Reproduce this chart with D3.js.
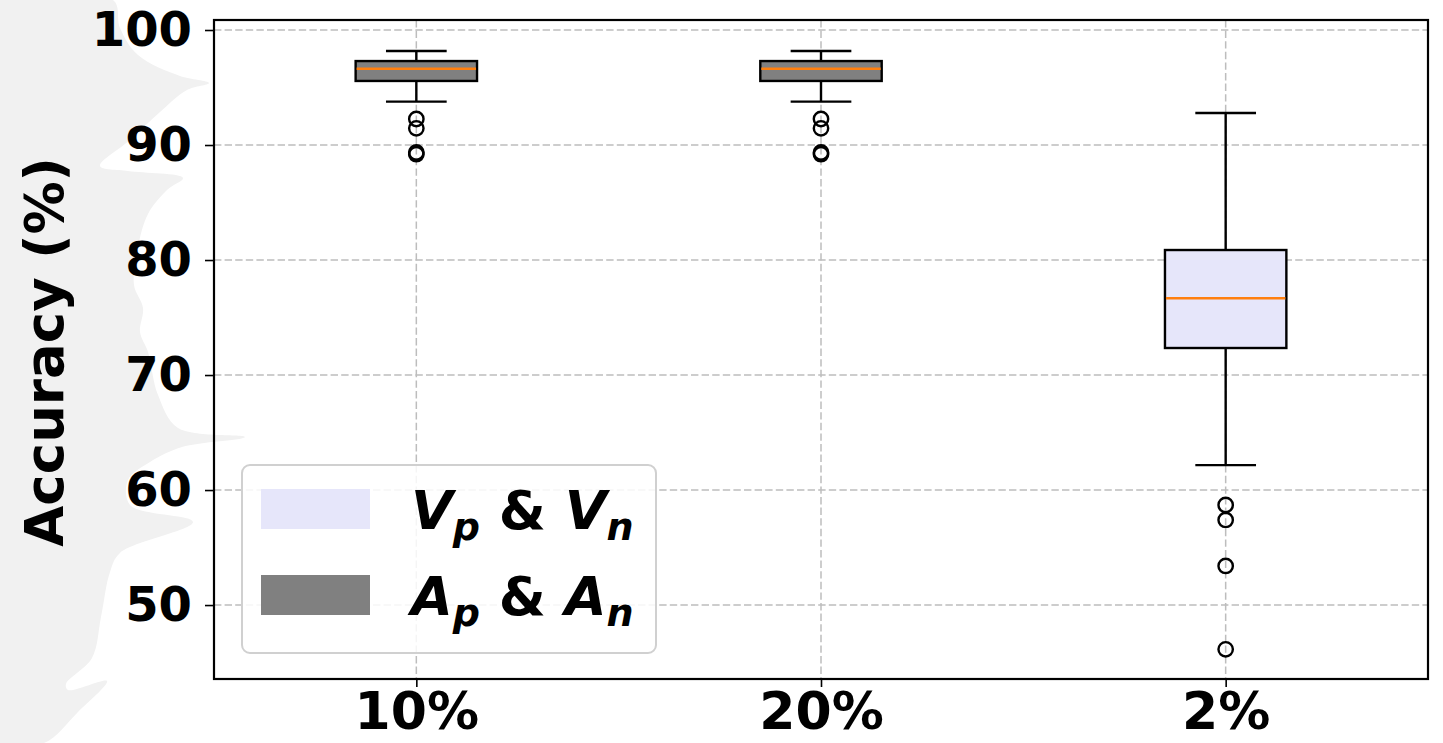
<!DOCTYPE html>
<html>
<head>
<meta charset="utf-8">
<script src="https://cdn.jsdelivr.net/npm/d3@7"></script>
<style>
  html, body { margin: 0; padding: 0; background: #ffffff; }
  svg { display: block; }
  text { font-family: "DejaVu Sans", sans-serif; }
</style>
</head>
<body>
<svg id="chart" width="1443" height="743"></svg>
<script>
// Accuracy distributions per sampling ratio
const categories = ["10%", "20%", "2%"];
const whiskerLow  = [93.77, 93.77, 62.17];
const q1          = [95.57, 95.57, 72.35];
const medians     = [96.63, 96.63, 76.67];
const q3          = [97.30, 97.30, 80.87];
const whiskerHigh = [98.17, 98.17, 92.78];
const outliers = [
  [92.26, 91.45, 89.35, 89.2],
  [92.26, 91.45, 89.35, 89.2],
  [58.7, 57.4, 53.4, 46.15]
];
// which legend group each box belongs to
const boxGroup = ["A", "A", "V"];
const yTicks = [50, 60, 70, 80, 90, 100];
const legendGroups = ["V", "A"];
const legendLetters = { V: "V", A: "A" };

const plot = { left: 214, right: 1428, top: 20, bottom: 679 };
const fills = { V: "#e6e6fa", A: "#808080" };
const lw = 2.4;

const svg = d3.select("#chart");

// faint background silhouette on the left side
const silhouette = [
  [0, 0], [113, 0], [120, 28], [138, 55], [180, 76], [209, 83],
  [187, 90], [160, 112], [130, 140], [100, 166], [128, 171], [183, 178],
  [167, 190], [148, 214], [138, 247], [134, 285], [143, 308], [140, 332],
  [148, 352], [158, 395], [178, 428], [245, 437], [182, 447], [150, 462],
  [128, 480], [130, 505], [193, 522], [120, 553], [110, 572], [101, 617],
  [92, 658], [66, 684], [68, 690], [107, 681], [78, 712], [44, 743], [0, 743]
];
svg.append("path")
  .attr("fill", "#f1f1f1")
  .attr("d", d3.line().curve(d3.curveCatmullRomClosed.alpha(0.5))(silhouette));

const y = d3.scaleLinear().domain([43.57, 100.87]).range([plot.bottom, plot.top]);
const x = d3.scalePoint().domain(categories).range([plot.left, plot.right]).padding(0.5);
const boxW = x.step() * 0.3;
const capW = boxW / 2;

const gridColor = "#bdbdbd";
const dash = "7.4,3.2";

// grid
const grid = svg.append("g");
grid.selectAll("line.h").data(yTicks).join("line")
  .attr("x1", plot.left).attr("x2", plot.right)
  .attr("y1", d => y(d)).attr("y2", d => y(d))
  .attr("stroke", gridColor).attr("stroke-width", 1.5).attr("stroke-dasharray", dash);
grid.selectAll("line.v").data(categories).join("line")
  .attr("x1", d => x(d)).attr("x2", d => x(d))
  .attr("y1", plot.top).attr("y2", plot.bottom)
  .attr("stroke", gridColor).attr("stroke-width", 1.5).attr("stroke-dasharray", dash);

// boxes
const boxes = svg.append("g").selectAll("g").data(categories).join("g");
boxes.each(function(cat, i) {
  const g = d3.select(this);
  const cx = x(cat);
  g.append("line").attr("x1", cx).attr("x2", cx)
    .attr("y1", y(whiskerHigh[i])).attr("y2", y(q3[i]))
    .attr("stroke", "#000").attr("stroke-width", lw);
  g.append("line").attr("x1", cx).attr("x2", cx)
    .attr("y1", y(q1[i])).attr("y2", y(whiskerLow[i]))
    .attr("stroke", "#000").attr("stroke-width", lw);
  [whiskerHigh[i], whiskerLow[i]].forEach(v => {
    g.append("line").attr("x1", cx - capW / 2).attr("x2", cx + capW / 2)
      .attr("y1", y(v)).attr("y2", y(v))
      .attr("stroke", "#000").attr("stroke-width", lw);
  });
  g.append("rect")
    .attr("x", cx - boxW / 2).attr("width", boxW)
    .attr("y", y(q3[i])).attr("height", y(q1[i]) - y(q3[i]))
    .attr("fill", fills[boxGroup[i]]).attr("stroke", "#000").attr("stroke-width", lw);
  g.append("line").attr("x1", cx - boxW / 2 + 1).attr("x2", cx + boxW / 2 - 1)
    .attr("y1", y(medians[i])).attr("y2", y(medians[i]))
    .attr("stroke", "#ff7f0e").attr("stroke-width", lw);
  g.selectAll("circle").data(outliers[i]).join("circle")
    .attr("cx", cx).attr("cy", d => y(d)).attr("r", 7.2)
    .attr("fill", "none").attr("stroke", "#000").attr("stroke-width", 2.4);
});

// axes
const yAxis = svg.append("g").attr("transform", `translate(${plot.left},0)`)
  .call(d3.axisLeft(y).tickValues(yTicks).tickSize(9).tickPadding(13).tickFormat(d3.format("d")));
yAxis.select(".domain").remove();
yAxis.selectAll("line").attr("stroke", "#000").attr("stroke-width", 1.6);
yAxis.selectAll("text").attr("font-size", 48).attr("font-weight", "bold")
  .attr("font-family", "DejaVu Sans").attr("fill", "#000");

const xAxis = svg.append("g").attr("transform", `translate(0,${plot.bottom})`)
  .call(d3.axisBottom(x).tickSize(8).tickPadding(5));
xAxis.select(".domain").remove();
xAxis.selectAll("line").attr("stroke", "#000").attr("stroke-width", 1.6);
xAxis.selectAll("text").attr("font-size", 52).attr("font-weight", "bold")
  .attr("font-family", "DejaVu Sans").attr("fill", "#000");

// frame
svg.append("rect")
  .attr("x", plot.left).attr("y", plot.top)
  .attr("width", plot.right - plot.left).attr("height", plot.bottom - plot.top)
  .attr("fill", "none").attr("stroke", "#000").attr("stroke-width", 2.2);

// y label
svg.append("text")
  .attr("transform", "translate(63,352) rotate(-90)")
  .attr("text-anchor", "middle")
  .attr("font-size", 53).attr("font-weight", "bold").attr("fill", "#000")
  .text("Accuracy (%)");

// legend
const lg = svg.append("g");
lg.append("rect")
  .attr("x", 242).attr("y", 465).attr("width", 414).attr("height", 188)
  .attr("rx", 8).attr("ry", 8)
  .attr("fill", "rgba(255,255,255,0.85)").attr("stroke", "#d0d0d0").attr("stroke-width", 2);
legendGroups.forEach((grp, k) => {
  const rowY = 509 + k * 86;
  lg.append("rect").attr("x", 261).attr("y", rowY - 20).attr("width", 109).attr("height", 40)
    .attr("fill", fills[grp]);
  const t = lg.append("text").attr("x", 411).attr("y", rowY + 20)
    .attr("font-size", 54).attr("font-weight", "bold").attr("fill", "#000");
  const L = legendLetters[grp];
  t.append("tspan").attr("font-style", "italic").text(L);
  t.append("tspan").attr("font-style", "italic").attr("font-size", 38).attr("dy", 11).text("p");
  t.append("tspan").attr("dy", -11).text(" & ");
  t.append("tspan").attr("font-style", "italic").text(L);
  t.append("tspan").attr("font-style", "italic").attr("font-size", 38).attr("dy", 11).text("n");
});
</script>
</body>
</html>
